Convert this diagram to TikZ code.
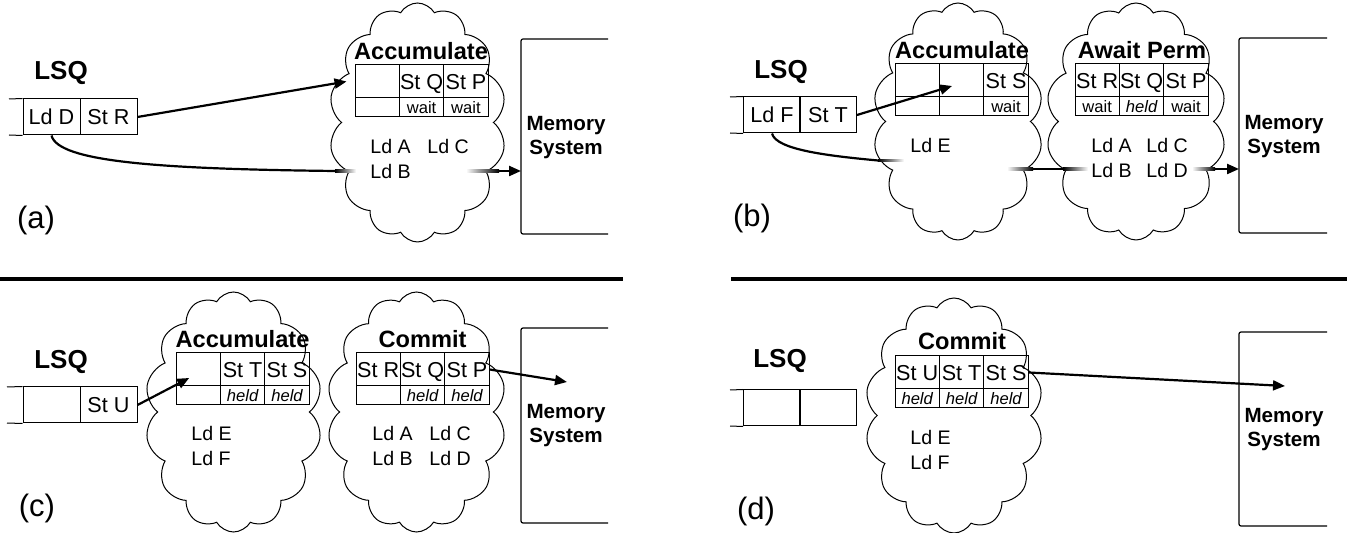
\documentclass[tikz,border=0pt]{standalone}
\usepackage{fontspec}
\setmainfont{Liberation Sans}
\usetikzlibrary{arrows.meta,positioning,calc,shapes.symbols}

\begin{document}
\begin{tikzpicture}[
            x=0.5pt, y=-0.5pt,
            lsq/.style={
                font=\fontsize{13}{15}\selectfont\bfseries,
                inner sep=0pt
            },
            qcell/.style={
                draw,
                line width=0.5pt,
                minimum width=28.5pt,
                minimum height=18pt,
                inner sep=0pt,
                text height=7.8pt,
                text depth=0pt,
                font=\fontsize{10.8}{12}\selectfont
            },
            buf/.style={
                draw,
                fill=white,
                line width=0.5pt,
                cloud,
                cloud puffs=14,
                cloud puff arc=120,
                cloud ignores aspect,
                inner sep=0pt
            },
            ttl/.style={
                font=\fontsize{11.8}{14}\selectfont\bfseries,
                inner sep=0pt
            },
            topcell/.style={
                draw,
                line width=0.5pt,
                minimum width=22.2pt,
                minimum height=16.5pt,
                inner sep=0pt,
                text height=7.8pt,
                text depth=0pt,
                font=\fontsize{10.8}{12}\selectfont
            },
            botcell/.style={
                draw,
                line width=0.5pt,
                minimum width=22.2pt,
                minimum height=9.5pt,
                inner sep=0pt,
                text height=6pt,
                text depth=0pt,
                font=\fontsize{8.3}{9}\selectfont
            },
            ld/.style={
                anchor=west,
                inner sep=0pt,
                font=\fontsize{9.8}{11}\selectfont
            },
            mem/.style={
                align=center,
                inner sep=0pt,
                font=\fontsize{10.3}{12}\selectfont\bfseries
            },
            tag/.style={
                inner sep=0pt,
                font=\fontsize{15.5}{18}\selectfont
            },
            membox/.style={
                line width=0.6pt,
                rounded corners=1pt
            },
            wire/.style={
                line width=1.1pt
            },
            move/.style={
                line width=1.1pt,
                -{Triangle[length=6pt,width=5pt]}
            }
        ]

            \useasboundingbox (0,0) rectangle (1347,533);

            % Table geometry (px)
            \def\cw{44.4}

            % ================= (a) =================
            \node[lsq] (lsqa) at (61,73) {LSQ};
            \node[qcell] (qa1) at (51.5,117) {Ld D};
            \node[qcell] (qa2) at (108.5,117) {St R};
            \draw[line width=0.5pt] (9,99) -- (qa1.north west) (9,135) -- (qa1.south west);

            \node[buf, minimum width=88.5pt, minimum height=119.5pt] (cla) at (417.5,122.5) {};
            \node[ttl] (acca) at (421,51) {Accumulate};
            \foreach[count=\i] \t/\b in {{}/{}, St Q/wait, St P/wait} {
                \node[topcell] (a-t\i) at ({355+(\i-0.5)*\cw}, 81.5) {\t};
                \node[botcell] (a-b\i) at ({355+(\i-0.5)*\cw}, 107.5) {\b};
            }
            \node[ld] (a-lda) at (370,146) {Ld A};
            \node[ld] (a-ldc) at (427,146) {Ld C};
            \node[ld] (a-ldb) at (370,171) {Ld B};

            \draw[membox] (608,39) -- (521,39) -- (521,234) -- (608,234);
            \node[mem] (mema) at (566,138) {Memory\\System};
            \node[tag] (taga) at (36,220) {(a)};

            % connectors (a)
            \draw[move] (qa2.east) -- ([xshift=-4pt]a-t1.west);
            \coordinate (a-f1) at (335,171);
            \coordinate (a-f2) at (499,171);
            \coordinate (a-in) at (521,171);
            \draw[wire] (qa1.south) .. controls (58,162) and (160,169) .. (a-f1);
            \shade[left color=black, right color=white] (335,169.9) rectangle (356,172.1);
            \shade[left color=white, right color=black] (466,169.9) rectangle (499,172.1);
            \draw[move] (a-f2) -- (a-in);

            % ================= (b) =================
            \node[lsq] (lsqb) at (781,72) {LSQ};
            \node[qcell] (qb1) at (772,115) {Ld F};
            \node[qcell] (qb2) at (828,115) {St T};
            \draw[line width=0.5pt] (730,97) -- (qb1.north west) (730,133) -- (qb1.south west);

            \node[buf, minimum width=85pt, minimum height=118.5pt] (clb1) at (958,121.5) {};
            \node[buf, minimum width=90pt, minimum height=118.5pt] (clb2) at (1136,121.5) {};
            \node[ttl] (accb) at (962,50) {Accumulate};
            \node[ttl] (awb) at (1142,50) {Await Perm};
            \foreach[count=\i] \t/\b in {{}/{}, {}/{}, St S/wait} {
                \node[topcell] (b1-t\i) at ({895+(\i-0.5)*\cw}, 80.5) {\t};
                \node[botcell] (b1-b\i) at ({895+(\i-0.5)*\cw}, 106.5) {\b};
            }
            \foreach[count=\i] \t/\b in {St R/wait, St Q/{\itshape held}, St P/wait} {
                \node[topcell] (b2-t\i) at ({1075+(\i-0.5)*\cw}, 80.5) {\t};
                \node[botcell] (b2-b\i) at ({1075+(\i-0.5)*\cw}, 106.5) {\b};
            }
            \node[ld] (b-lde) at (910,145) {Ld E};
            \node[ld] (b-lda) at (1091,145) {Ld A};
            \node[ld] (b-ldc) at (1146,145) {Ld C};
            \node[ld] (b-ldb) at (1091,170) {Ld B};
            \node[ld] (b-ldd) at (1146,170) {Ld D};

            \draw[membox] (1327,38) -- (1239,38) -- (1239,233) -- (1327,233);
            \node[mem] (memb) at (1284,137) {Memory\\System};
            \node[tag] (tagb) at (752,218) {(b)};

            % connectors (b)
            \draw[move] (qb2.east) -- ($(b1-t2.center)+(-9.6,5.5)$);
            \coordinate (b-f1) at (878,160.5);
            \coordinate (b-m1) at (1033,169);
            \coordinate (b-m2) at (1063,169);
            \coordinate (b-f2) at (1215,169);
            \coordinate (b-in) at (1239,169);
            \draw[wire] (qb1.south) .. controls (776,150) and (830,156) .. (b-f1);
            \shade[left color=black, right color=white] (878,159.4) rectangle (904,161.6);
            \shade[left color=white, right color=black] (1007,167.9) rectangle (1033,170.1);
            \draw[wire] (b-m1) -- (b-m2);
            \shade[left color=black, right color=white] (1063,167.9) rectangle (1088,170.1);
            \shade[left color=white, right color=black] (1192,167.9) rectangle (1215,170.1);
            \draw[move] (b-f2) -- (b-in);

            % Separators
            \draw[line width=1.75pt] (0,279) -- (623,279);
            \draw[line width=1.75pt] (731,279) -- (1347,279);

            % ================= (c) =================
            \node[lsq] (lsqc) at (61,362) {LSQ};
            \node[qcell] (qc1) at (51.5,405) {};
            \node[qcell] (qc2) at (108.5,405) {St U};
            \draw[line width=0.5pt] (7,387) -- (qc1.north west) (7,423) -- (qc1.south west);

            \node[buf, minimum width=88.5pt, minimum height=120pt] (clc1) at (233.5,412) {};
            \node[buf, minimum width=89.5pt, minimum height=120pt] (clc2) at (416.5,412) {};
            \node[ttl] (accc) at (242.5,339) {Accumulate};
            \node[ttl] (comc) at (422.5,339) {Commit};
            \foreach[count=\i] \t/\b in {{}/{}, St T/{\itshape held}, St S/{\itshape held}} {
                \node[topcell] (c1-t\i) at ({176+(\i-0.5)*\cw}, 369.5) {\t};
                \node[botcell] (c1-b\i) at ({176+(\i-0.5)*\cw}, 395.5) {\b};
            }
            \foreach[count=\i] \t/\b in {St R/{}, St Q/{\itshape held}, St P/{\itshape held}} {
                \node[topcell] (c2-t\i) at ({356+(\i-0.5)*\cw}, 369.5) {\t};
                \node[botcell] (c2-b\i) at ({356+(\i-0.5)*\cw}, 395.5) {\b};
            }
            \node[ld] (c-lde) at (191,433) {Ld E};
            \node[ld] (c-ldf) at (191,458) {Ld F};
            \node[ld] (c-lda) at (372,433) {Ld A};
            \node[ld] (c-ldc) at (429,433) {Ld C};
            \node[ld] (c-ldb) at (372,458) {Ld B};
            \node[ld] (c-ldd) at (429,458) {Ld D};

            \draw[membox] (608,328) -- (521,328) -- (521,523) -- (608,523);
            \node[mem] (memc) at (566,426) {Memory\\System};
            \node[tag] (tagc) at (37,508) {(c)};

            % connectors (c)
            \coordinate (c-out) at (567,382);
            \draw[move] (qc2.east) -- ($(c1-t1.center)+(-9,8.5)$);
            \draw[move] (c2-t3.east) -- (c-out);

            % ================= (d) =================
            \node[lsq] (lsqd) at (780,361) {LSQ};
            \node[qcell] (qd1) at (772,408) {};
            \node[qcell] (qd2) at (828,408) {};
            \draw[line width=0.5pt] (730,390) -- (qd1.north west) (730,426) -- (qd1.south west);

            \node[buf, minimum width=89pt, minimum height=117.5pt] (cld) at (954,415.5) {};
            \node[ttl] (comd) at (962,341) {Commit};
            \foreach[count=\i] \t/\b in {St U/{\itshape held}, St T/{\itshape held}, St S/{\itshape held}} {
                \node[topcell] (d-t\i) at ({895+(\i-0.5)*\cw}, 372.5) {\t};
                \node[botcell] (d-b\i) at ({895+(\i-0.5)*\cw}, 398.5) {\b};
            }
            \node[ld] (d-lde) at (910,437) {Ld E};
            \node[ld] (d-ldf) at (910,462) {Ld F};

            \draw[membox] (1327,332) -- (1239,332) -- (1239,526) -- (1327,526);
            \node[mem] (memd) at (1284,430) {Memory\\System};
            \node[tag] (tagd) at (756,511) {(d)};

            % connectors (d)
            \coordinate (d-out) at (1285,386);
            \draw[move] (d-t3.east) -- (d-out);

        \end{tikzpicture}
\end{document}
